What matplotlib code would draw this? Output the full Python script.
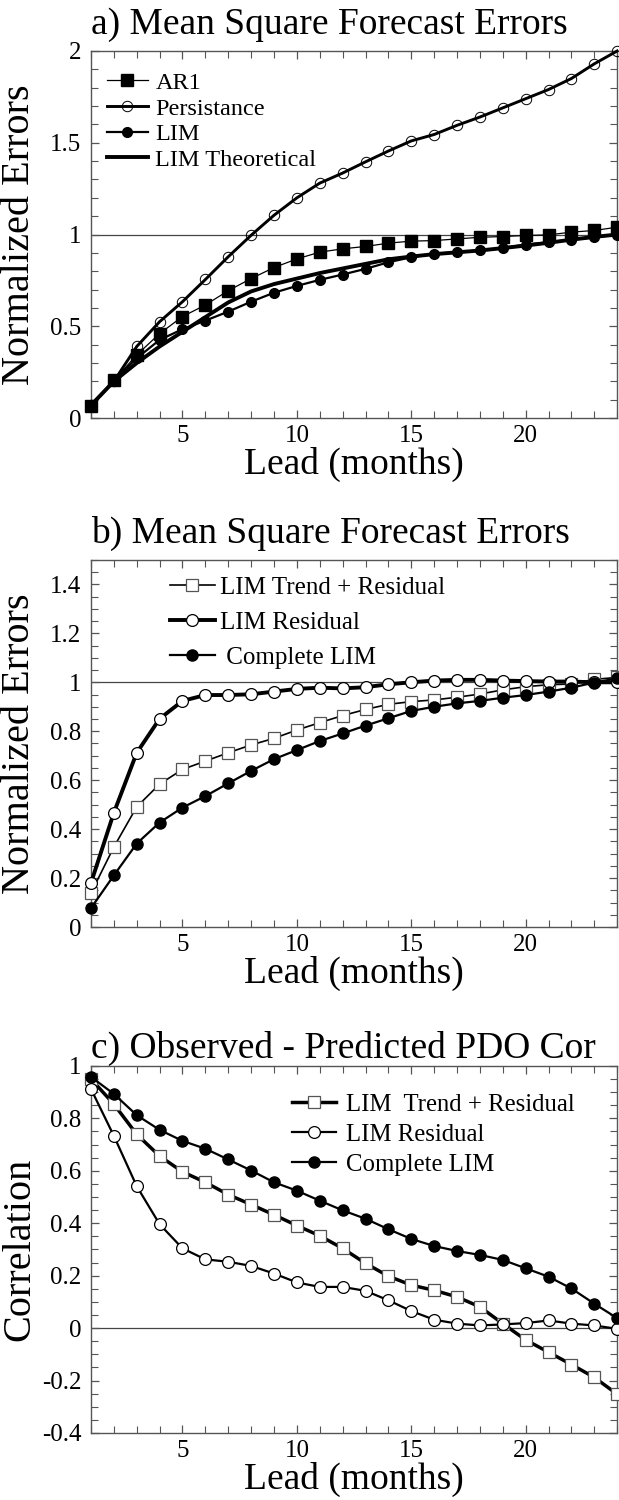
import numpy as np
import matplotlib
matplotlib.use("Agg")
import matplotlib.pyplot as plt
from matplotlib.ticker import MultipleLocator, FuncFormatter

plt.rcParams['font.family'] = ['Liberation Serif', 'DejaVu Serif']
plt.rcParams['axes.unicode_minus'] = False

lead = np.arange(1, 25)

# panel a: mean square forecast errors
ar1 = [0.063, 0.205, 0.344, 0.46, 0.553, 0.616, 0.694, 0.76, 0.82, 0.867, 0.904, 0.922,
       0.935, 0.953, 0.964, 0.967, 0.976, 0.985, 0.989, 0.995, 0.998, 1.013, 1.022, 1.04]
persistance = [0.07, 0.2, 0.39, 0.525, 0.634, 0.755, 0.879, 0.996, 1.105, 1.2, 1.28, 1.335,
               1.396, 1.455, 1.51, 1.545, 1.595, 1.64, 1.69, 1.74, 1.79, 1.85, 1.93, 2.0]
lim_a = [0.063, 0.205, 0.326, 0.426, 0.484, 0.531, 0.58, 0.634, 0.683, 0.72, 0.753, 0.782,
         0.813, 0.849, 0.876, 0.895, 0.904, 0.913, 0.927, 0.945, 0.958, 0.971, 0.985, 1.0]
lim_theory = [0.07, 0.2, 0.3, 0.39, 0.47, 0.55, 0.63, 0.69, 0.73, 0.76, 0.79, 0.815,
              0.84, 0.865, 0.88, 0.893, 0.903, 0.913, 0.926, 0.94, 0.955, 0.972, 0.987, 1.0]

# panel b: mean square forecast errors
trend_res_b = [0.139, 0.327, 0.491, 0.584, 0.644, 0.678, 0.712, 0.744, 0.771, 0.805, 0.835, 0.864,
               0.889, 0.91, 0.921, 0.928, 0.939, 0.952, 0.969, 0.982, 0.99, 0.993, 1.012, 1.02]
residual_b = [0.18, 0.467, 0.712, 0.851, 0.924, 0.948, 0.948, 0.951, 0.962, 0.973, 0.978, 0.975,
              0.98, 0.992, 1.0, 1.007, 1.01, 1.01, 1.007, 1.005, 1.003, 1.003, 1.0, 1.0]
complete_b = [0.077, 0.211, 0.341, 0.427, 0.488, 0.535, 0.587, 0.638, 0.686, 0.723, 0.76, 0.791,
              0.823, 0.853, 0.883, 0.9, 0.914, 0.924, 0.937, 0.948, 0.962, 0.978, 0.999, 1.016]

# panel c: observed - predicted PDO correlation
trend_res_c = [0.95, 0.854, 0.739, 0.656, 0.596, 0.556, 0.509, 0.471, 0.432, 0.391, 0.352, 0.304,
               0.247, 0.198, 0.164, 0.144, 0.119, 0.081, 0.017, -0.045, -0.092, -0.139, -0.188, -0.252]
residual_c = [0.912, 0.733, 0.541, 0.396, 0.304, 0.262, 0.253, 0.237, 0.208, 0.174, 0.157, 0.157,
              0.142, 0.106, 0.065, 0.032, 0.017, 0.01, 0.014, 0.019, 0.029, 0.017, 0.01, -0.003]
complete_c = [0.958, 0.893, 0.812, 0.756, 0.714, 0.684, 0.643, 0.601, 0.556, 0.524, 0.486, 0.449,
              0.417, 0.377, 0.34, 0.313, 0.294, 0.279, 0.26, 0.228, 0.196, 0.151, 0.093, 0.038]

fig = plt.figure(figsize=(6.19, 15), dpi=100)
left, width, height = 0.147, 0.850, 0.2447
ax_a = fig.add_axes([left, 0.7213, width, height])
ax_b = fig.add_axes([left, 0.382, width, height])
ax_c = fig.add_axes([left, 0.0447, width, height])

fmt = FuncFormatter(lambda v, p: "%g" % round(v, 2))


def style_axes(ax, ymin, ymax, ymajor, yminor):
    ax.set_xlim(1, 24)
    ax.set_ylim(ymin, ymax)
    ax.xaxis.set_major_locator(MultipleLocator(5))
    ax.xaxis.set_minor_locator(MultipleLocator(1))
    ax.yaxis.set_major_locator(MultipleLocator(ymajor))
    ax.yaxis.set_minor_locator(MultipleLocator(yminor))
    ax.yaxis.set_major_formatter(fmt)
    ax.tick_params(which='both', direction='in', top=True, right=True,
                   color='#555555', labelsize=18, pad=7)
    ax.tick_params(axis='x', which='both', pad=5)
    ax.tick_params(which='major', length=6, width=0.9)
    ax.tick_params(which='minor', length=5, width=0.8)
    for s in ax.spines.values():
        s.set_color('#555555')
        s.set_linewidth(1.0)
    ax.set_xlabel("Lead (months)", fontsize=27, labelpad=0)
    ax.yaxis.set_label_coords(-0.10, 0.5)


# ---- a ----
ax = ax_a
style_axes(ax, 0, 2, 0.5, 0.1)
ax.axhline(1, color='#444444', lw=0.9, zorder=1)
ax.plot(lead, ar1, color='k', lw=0.9, marker='s', ms=8, mfc='k', mec='k',
        clip_on=False, label="AR1", zorder=3)
ax.plot(lead, persistance, color='k', lw=2.1, marker='o', ms=7.5, mfc='none', mec='k',
        mew=0.7, clip_on=False, label="Persistance", zorder=3)
ax.plot(lead, lim_a, color='k', lw=1.6, marker='o', ms=7, mfc='k', mec='k',
        clip_on=False, label="LIM", zorder=4)
ax.plot(lead, lim_theory, color='k', lw=2.8, clip_on=False, label="LIM Theoretical", zorder=3)
ax.set_ylabel("Normalized Errors", fontsize=29)
ax.set_title("a) Mean Square Forecast Errors", fontsize=27, loc='left', pad=12)
ax.legend(loc='upper left', bbox_to_anchor=(0.03, 0.943), frameon=False, fontsize=17.5,
          borderpad=0, borderaxespad=0, handlelength=1.7, handletextpad=0.3,
          labelspacing=0.15)

# ---- b ----
ax = ax_b
style_axes(ax, 0, 1.5, 0.2, 0.05)
ax.axhline(1, color='#444444', lw=0.9, zorder=1)
ax.plot(lead, trend_res_b, color='k', lw=1.2, marker='s', ms=8.5, mfc='white', mec='#555555',
        mew=0.9, clip_on=False, label="LIM Trend + Residual", zorder=3)
ax.plot(lead, residual_b, color='k', lw=2.8, marker='o', ms=8.5, mfc='white', mec='k',
        mew=0.9, clip_on=False, label="LIM Residual", zorder=3)
ax.plot(lead, complete_b, color='k', lw=1.6, marker='o', ms=8, mfc='k', mec='k',
        clip_on=False, label=" Complete LIM", zorder=4)
ax.set_ylabel("Normalized Errors", fontsize=29)
ax.set_title("b) Mean Square Forecast Errors", fontsize=27, loc='left', pad=12)
ax.legend(loc='upper left', bbox_to_anchor=(0.15, 0.955), frameon=False, fontsize=18,
          borderpad=0, borderaxespad=0, handlelength=1.8, handletextpad=0.2,
          labelspacing=0.5)

# ---- c ----
ax = ax_c
style_axes(ax, -0.4, 1, 0.2, 0.05)
ax.axhline(0, color='#444444', lw=0.9, zorder=1)
ax.plot(lead, trend_res_c, color='k', lw=2.5, marker='s', ms=8.5, mfc='white', mec='#555555',
        mew=0.9, clip_on=False, label="LIM  Trend + Residual", zorder=3)
ax.plot(lead, residual_c, color='k', lw=1.6, marker='o', ms=8.5, mfc='white', mec='k',
        mew=0.9, clip_on=False, label="LIM Residual", zorder=3)
ax.plot(lead, complete_c, color='k', lw=1.6, marker='o', ms=8, mfc='k', mec='k',
        clip_on=False, label="Complete LIM", zorder=4)
ax.set_ylabel("Correlation", fontsize=29)
ax.set_title("c) Observed - Predicted PDO Cor", fontsize=27, loc='left', pad=-6)
ax.legend(loc='upper left', bbox_to_anchor=(0.382, 0.925), frameon=False, fontsize=17.8,
          borderpad=0, borderaxespad=0, handlelength=1.8, handletextpad=0.4,
          labelspacing=0.31)

fig.savefig("out.png", dpi=100)
